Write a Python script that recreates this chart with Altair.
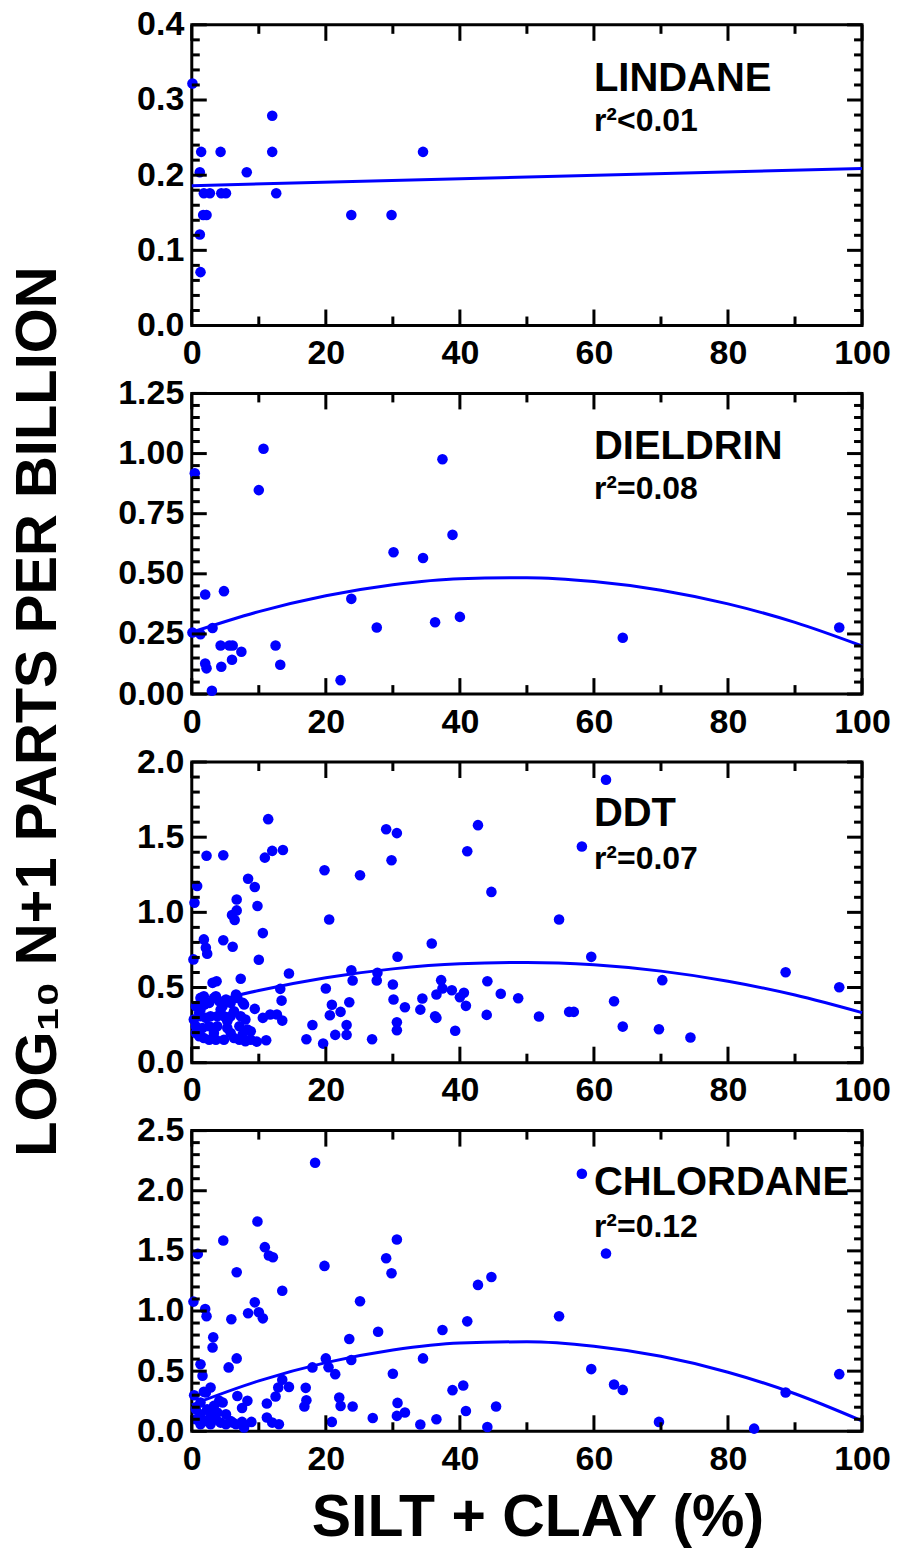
import altair as alt
import pandas as pd

FONT = "Liberation Sans"
BLUE = "#0000FF"
W, H = 671, 301

# ---------------- data ----------------
X_TICKS = [0, 10, 20, 30, 40, 50, 60, 70, 80, 90, 100]
X_LABELS = [0, 20, 40, 60, 80, 100]
FIT_X = [0, 10, 20, 30, 40, 50, 60, 70, 80, 90, 100]

NAMES = ["LINDANE", "DIELDRIN", "DDT", "CHLORDANE"]
R2 = ["r\u00b2<0.01", "r\u00b2=0.08", "r\u00b2=0.07", "r\u00b2=0.12"]
YMAX = [0.4, 1.25, 2.0, 2.5]
Y_LABELS = [
    [0.0, 0.1, 0.2, 0.3, 0.4],
    [0.0, 0.25, 0.5, 0.75, 1.0, 1.25],
    [0.0, 0.5, 1.0, 1.5, 2.0],
    [0.0, 0.5, 1.0, 1.5, 2.0, 2.5],
]
Y_MINOR = [
    [0.02, 0.04, 0.06, 0.08, 0.12, 0.14, 0.16, 0.18, 0.22, 0.24, 0.26, 0.28, 0.32, 0.34, 0.36, 0.38],
    [0.05, 0.1, 0.15, 0.2, 0.3, 0.35, 0.4, 0.45, 0.55, 0.6, 0.65, 0.7, 0.8, 0.85, 0.9, 0.95,
     1.05, 1.1, 1.15, 1.2],
    [0.1, 0.2, 0.3, 0.4, 0.6, 0.7, 0.8, 0.9, 1.1, 1.2, 1.3, 1.4, 1.6, 1.7, 1.8, 1.9],
    [0.1, 0.2, 0.3, 0.4, 0.6, 0.7, 0.8, 0.9, 1.1, 1.2, 1.3, 1.4, 1.6, 1.7, 1.8, 1.9,
     2.1, 2.2, 2.3, 2.4],
]
Y_FMT = [".1f", ".2f", ".1f", ".1f"]
LABEL_X = [60, 60, 60, 60]
NAME_Y = [0.3115, 0.976, 1.573, 1.967]
R2_Y = [0.259, 0.81, 1.287, 1.617]

lin_x = [0.1, 12.0, 1.4, 4.3, 12.0, 34.5, 1.2, 8.2, 1.8, 2.7, 4.4, 5.1, 12.6, 1.7, 2.2,
         23.8, 29.8, 1.2, 1.3]
lin_y = [0.322, 0.279, 0.231, 0.231, 0.231, 0.231, 0.204, 0.204, 0.176, 0.176, 0.176,
         0.176, 0.176, 0.147, 0.147, 0.147, 0.147, 0.121, 0.071]
lin_fit_x = [0, 100]
lin_fit_y = [0.186, 0.209]

die_x = [0.45, 10.7, 10.0, 37.4, 38.9, 30.1, 34.5, 2.0, 4.8, 23.8, 0.1, 1.3, 3.1, 27.6,
         36.3, 40.0, 4.3, 5.6, 6.1, 7.4, 12.5, 6.0, 2.0, 2.2, 4.4, 13.2, 22.2, 3.0, 64.3, 96.6]
die_y = [0.918, 1.020, 0.848, 0.976, 0.662, 0.590, 0.566, 0.414, 0.428, 0.396, 0.256,
         0.249, 0.275, 0.277, 0.299, 0.321, 0.202, 0.202, 0.202, 0.176, 0.202, 0.143,
         0.127, 0.107, 0.114, 0.122, 0.058, 0.014, 0.234, 0.277]
die_fit_y = [0.257, 0.343, 0.409, 0.455, 0.480, 0.484, 0.468, 0.432, 0.375, 0.298, 0.200]

ddt_x = [11.4, 29.0, 30.6, 42.7, 2.2, 4.7, 10.9, 12.0, 13.6, 29.8, 41.1, 19.8, 25.1, 0.8,
         8.4, 9.4, 0.4, 6.7, 6.7, 6.0, 6.4, 9.8, 20.5, 10.6, 1.8, 4.7, 2.1, 2.3, 6.1, 0.25,
         10.0, 35.8, 30.7, 14.5, 23.8, 24.0, 27.7, 27.6, 3.1, 3.7, 7.3, 13.2, 20.0, 30.0,
         37.2, 37.4, 36.5, 38.8, 40.6, 40.0, 40.9, 13.4, 23.5, 20.9, 20.6, 22.2, 30.1, 31.8,
         34.4, 34.1, 36.3, 36.5, 9.4, 10.6, 11.7, 12.7, 13.5, 18.0, 23.1, 23.1, 21.4, 30.6,
         30.6, 39.3, 17.1, 19.6, 26.9, 11.1, 9.7,
         0.6, 1.1, 1.3, 1.8, 1.9, 2.6, 3.3, 3.6, 4.1, 4.6, 5.1, 5.8, 6.6, 6.8, 7.6, 7.8,
         1.3, 2.1, 2.8, 3.8, 4.8, 5.8, 7.3, 8.0, 0.6, 1.6, 2.6, 3.8, 5.3, 7.1, 8.3, 8.8,
         1.1, 1.8, 2.6, 3.6, 4.8, 6.3, 7.1, 8.0, 8.8, 0.6, 3.3, 5.8, 7.6, 1.3, 4.3, 6.3,
         0.3, 5.3,
         61.8, 58.2, 44.7, 54.8, 59.6, 88.6, 96.6, 44.1, 46.1, 48.7, 44.0, 51.8, 56.3,
         57.0, 63.0, 70.2, 64.3, 69.7, 74.4]
ddt_y = [1.62, 1.553, 1.527, 1.58, 1.376, 1.38, 1.364, 1.409, 1.415, 1.347, 1.407, 1.28,
         1.247, 1.175, 1.224, 1.169, 1.064, 1.085, 1.013, 0.982, 0.949, 1.042, 0.953, 0.862,
         0.82, 0.815, 0.765, 0.725, 0.771, 0.687, 0.685, 0.793, 0.705, 0.593, 0.615, 0.547,
         0.598, 0.547, 0.531, 0.542, 0.558, 0.491, 0.493, 0.52, 0.549, 0.493, 0.453, 0.482,
         0.465, 0.435, 0.378, 0.413, 0.402, 0.385, 0.315, 0.338, 0.42, 0.369, 0.427, 0.353,
         0.309, 0.298, 0.358, 0.298, 0.32, 0.32, 0.28, 0.251, 0.251, 0.185, 0.185, 0.269,
         0.216, 0.213, 0.156, 0.127, 0.156, 0.149, 0.14,
         0.376, 0.331, 0.431, 0.442, 0.387, 0.398, 0.431, 0.442, 0.409, 0.376, 0.42, 0.398,
         0.453, 0.431, 0.398, 0.387, 0.309, 0.298, 0.309, 0.309, 0.309, 0.309, 0.309, 0.287,
         0.242, 0.231, 0.242, 0.242, 0.231, 0.242, 0.22, 0.209, 0.176, 0.164, 0.153, 0.153,
         0.153, 0.164, 0.153, 0.142, 0.153, 0.198, 0.198, 0.198, 0.187, 0.353, 0.353, 0.342,
         0.287, 0.276,
         1.882, 1.438, 1.136, 0.953, 0.704, 0.602, 0.502, 0.542, 0.458, 0.429, 0.318, 0.307,
         0.338, 0.338, 0.409, 0.549, 0.24, 0.222, 0.167]
ddt_fit_y = [0.370, 0.480, 0.565, 0.624, 0.658, 0.667, 0.651, 0.609, 0.542, 0.450, 0.333]

chl_x = [18.4, 9.8, 4.7, 10.9, 11.5, 12.1, 30.6, 29.0, 29.8, 19.8, 0.9, 6.7, 13.5, 25.1,
         0.25, 9.4, 2.0, 2.2, 8.4, 10.0, 10.6, 5.9, 42.7, 3.2, 3.1, 6.7, 5.5, 1.3, 1.6, 2.8,
         1.8, 0.35, 20.0, 20.4, 21.4, 18.0, 23.8, 23.5, 27.8, 37.4, 41.1, 34.5, 30.0, 40.5,
         38.9, 40.9, 36.5, 34.1, 30.7, 30.6, 31.8, 27.0, 22.0, 22.2, 24.0, 20.9, 17.0, 17.1,
         16.8, 13.5, 12.9, 14.5, 12.5, 11.2, 11.2, 13.0, 12.0, 6.8, 8.3, 7.5, 8.9, 7.5, 6.1,
         0.6, 0.6, 1.3, 2.1, 2.8, 3.6, 4.3, 5.1, 5.8, 6.6, 7.8, 1.3, 2.3, 3.3, 4.1, 4.6,
         2.8, 3.8, 5.1, 1.3, 2.1,
         58.2, 61.8, 44.7, 54.8, 59.6, 63.0, 64.3, 96.6, 88.6, 45.4, 44.1, 69.7, 83.9]
chl_y = [2.233, 1.744, 1.586, 1.531, 1.461, 1.447, 1.594, 1.439, 1.314, 1.375, 1.475, 1.322,
         1.169, 1.081, 1.078, 1.072, 1.017, 0.956, 0.981, 0.989, 0.939, 0.931, 1.217, 0.781,
         0.697, 0.606, 0.531, 0.558, 0.461, 0.364, 0.328, 0.3, 0.606, 0.533, 0.475, 0.531,
         0.592, 0.767, 0.828, 0.842, 0.914, 0.606, 0.478, 0.381, 0.342, 0.169, 0.1, 0.056,
         0.236, 0.128, 0.156, 0.111, 0.281, 0.211, 0.206, 0.078, 0.361, 0.258, 0.206, 0.428,
         0.364, 0.369, 0.289, 0.231, 0.114, 0.058, 0.072, 0.294, 0.253, 0.194, 0.078, 0.078,
         0.072,
         0.183, 0.1, 0.058, 0.086, 0.058, 0.1, 0.072, 0.058, 0.086, 0.058, 0.031, 0.142,
         0.183, 0.211, 0.253, 0.239, 0.142, 0.156, 0.142, 0.239, 0.322,
         2.142, 1.478, 1.283, 0.956, 0.517, 0.389, 0.344, 0.475, 0.322, 0.206, 0.036, 0.078,
         0.022]
chl_fit_y = [0.220, 0.419, 0.571, 0.676, 0.734, 0.744, 0.707, 0.623, 0.491, 0.312, 0.086]

POINTS = [(lin_x, lin_y), (die_x, die_y), (ddt_x, ddt_y), (chl_x, chl_y)]
FITS = [(lin_fit_x, lin_fit_y), (FIT_X, die_fit_y), (FIT_X, ddt_fit_y), (FIT_X, chl_fit_y)]


def panel(i, last):
    xs = alt.Scale(domain=[0, 100], nice=False, zero=False)
    ys = alt.Scale(domain=[0, YMAX[i]], nice=False, zero=False)
    xaxis_kw = dict(values=X_LABELS, format="d", ticks=False, domain=False, grid=False,
                    labelFont=FONT, labelFontSize=34, labelFontWeight="bold",
                    labelColor="black", labelPadding=11, labelOverlap=False,
                    labelFlush=False)
    if last:
        xaxis = alt.Axis(title="SILT + CLAY (%)", titleFont=FONT, titleFontSize=59,
                         titleFontWeight="bold", titleColor="black", titlePadding=12,
                         titleX=346, titleAlign="center", **xaxis_kw)
    else:
        xaxis = alt.Axis(title=None, **xaxis_kw)
    yaxis = alt.Axis(values=Y_LABELS[i], format=Y_FMT[i], ticks=False, domain=False,
                     grid=False, title=None, labelFont=FONT, labelFontSize=34,
                     labelFontWeight="bold", labelColor="black", labelPadding=8,
                     labelOverlap=False, labelFlush=False)

    def X(f):
        return alt.X(f, scale=xs, axis=xaxis)

    def Y(f):
        return alt.Y(f, scale=ys, axis=yaxis)

    px, py = POINTS[i]
    pts = alt.Chart(pd.DataFrame({"x": px, "y": py})).mark_circle(
        size=112, color=BLUE, opacity=1
    ).encode(x=X("x:Q"), y=Y("y:Q"))

    fx, fy = FITS[i]
    fit = alt.Chart(pd.DataFrame({"x": fx, "y": fy})).mark_line(
        color=BLUE, strokeWidth=3, interpolate="monotone"
    ).encode(x=X("x:Q"), y=Y("y:Q"))

    layers = [pts, fit]

    xmaj = pd.DataFrame({"x": [v for v in X_TICKS if v % 20 == 0]})
    xmin = pd.DataFrame({"x": [v for v in X_TICKS if v % 20 != 0]})
    for df, ln in ((xmaj, 16), (xmin, 9)):
        base = alt.Chart(df).mark_rule(color="black", strokeWidth=3)
        layers.append(base.encode(x=X("x:Q"), y=alt.value(H), y2=alt.value(H - ln)))
        layers.append(base.encode(x=X("x:Q"), y=alt.value(0), y2=alt.value(ln)))
    ymaj = pd.DataFrame({"y": Y_LABELS[i]})
    ymin = pd.DataFrame({"y": Y_MINOR[i]})
    for df, ln in ((ymaj, 15), (ymin, 8)):
        base = alt.Chart(df).mark_rule(color="black", strokeWidth=3)
        layers.append(base.encode(y=Y("y:Q"), x=alt.value(0), x2=alt.value(ln)))
        layers.append(base.encode(y=Y("y:Q"), x=alt.value(W), x2=alt.value(W - ln)))

    lab = pd.DataFrame({"x": [LABEL_X[i]], "y": [NAME_Y[i]], "t": [NAMES[i]]})
    layers.append(alt.Chart(lab).mark_text(
        align="left", baseline="alphabetic", font=FONT, fontSize=40, fontWeight="bold",
        color="black"
    ).encode(x=X("x:Q"), y=Y("y:Q"), text="t:N"))
    r2 = pd.DataFrame({"x": [LABEL_X[i]], "y": [R2_Y[i]], "t": [R2[i]]})
    layers.append(alt.Chart(r2).mark_text(
        align="left", baseline="alphabetic", font=FONT, fontSize=32, fontWeight="bold",
        color="black"
    ).encode(x=X("x:Q"), y=Y("y:Q"), text="t:N"))

    return alt.layer(*layers).properties(width=W, height=H)


panels = [panel(i, i == 3) for i in range(4)]

chart = alt.vconcat(*panels, spacing=68, bounds="flush").properties(
    title=alt.TitleParams(
        text="LOG\u2081\u2080 N+1 PARTS PER BILLION", orient="left", anchor="middle",
        font=FONT, fontSize=58, fontWeight="bold", color="black", offset=48, dx=66
    ),
    padding={"left": 10, "top": 5, "right": 5, "bottom": 5},
).configure_view(stroke="black", strokeWidth=3)

chart.save("out.html", embed_options={"renderer": "svg", "actions": False})
